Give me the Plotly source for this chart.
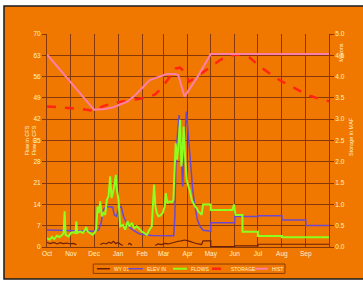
import pandas as pd
import plotly.graph_objects as go

START = pd.Timestamp("2000-10-01")

# ---- data (day of water year, value) ----
brown_days = [0, 4, 9, 13, 17, 21, 26, 30, 34, 38, None,
              69, 73, 77, 80, 83, 86, 89, 92, 95, 98, None,
              105, 107, 110, None,
              140, 144, 148, 153, 157, 161, 166, 170, 174, 178, 183, 187, 191, 196, 200,
              202, 212, 212, 243, 243, 273, 273, 365]
brown_vals = [1.5, 1.1, 1.5, 1.0, 1.4, 1.1, 1.3, 1.0, 1.2, 0.8, None,
              0.8, 1.3, 1.0, 1.6, 1.2, 1.9, 1.1, 1.5, 0.9, 0.5, None,
              0.8, 1.2, 0.6, None,
              0.5, 1.0, 0.8, 1.2, 1.0, 1.3, 1.6, 1.9, 2.0, 2.3, 2.0, 1.6, 1.3, 1.0, 0.8,
              2.0, 2.0, 0.1, 0.1, 0.4, 0.4, 0.9, 0.9]

purple_days = [0, 15, 31, 50, 61, 67, 70, 73, 77, 85, 87, 90, 93, 96, 99, 103, 108, 114, 120,
               135, 150, 164, 165.5, 167, 169, 171, 172.6, 174.3, 175.6, 177.4, 179, 180.4,
               182, 183.8, 186, 188.6, 191.6, 194.6, 198, 202, 212,
               212, 243, 243, 273, 273, 304, 304, 335, 335, 365]
purple_vals = [5.6, 5.5, 5.2, 5.2, 5.2, 5.6, 7.9, 12.3, 13.3, 13.1, 10.6, 10.1, 12.8, 13.3, 10.1,
               7.9, 6.2, 5.1, 4.3,
               3.8, 3.7, 3.7, 10.0, 30.0, 37.4, 43.4, 37.4, 24.3, 19.9, 31.9, 41.8, 44.5,
               39.6, 34.1, 26.5, 18.8, 13.3, 9.0, 6.8, 5.5, 5.2,
               8.0, 8.0, 10.0, 10.0, 10.3, 10.3, 8.9, 8.9, 7.1, 7.1]

green_days = [0, 3.4, 6.5, 9.5, 12.9, 16.4, 19.8, 21.5, 22.8, 24.1, 28, 31, 34.4, 37, 37.9, 39.2,
              43, 46.5, 49.5, 50.8, 52.5, 56, 59, 61.6, 63.7, 65.4, 67.2, 68.9, 71, 73.2, 75.3,
              77.5, 79.6, 81.8, 83.5, 85.2, 87, 89.1, 90.4, 92.6, 94.7, 98.2, 101.2, 104.2,
              106.8, 109.8, 112.8, 116.2, 119.7, 122.7, 125.7, 129.2, 132.6, 135.6, 138.6,
              140.3, 142.1, 144.2, 146.4, 149.8, 152.4, 153.7, 155.8, 158.4, 161.4, 163.6,
              165.3, 166.6, 168.3, 170, 172.2, 173.9, 175.2, 176.9, 178.7, 180.8, 183, 185.1,
              187.3, 189.4, 191.6, 193.7, 195.9, 198, 200.2,
              202, 212, 212, 240, 242, 244, 253, 253, 273, 273, 304, 304, 365]
green_vals = [2.9, 2.4, 3.3, 2.6, 3.7, 3.3, 4.0, 4.6, 11.7, 4.0, 3.5, 4.6, 4.8, 4.6, 8.4, 4.6,
              5.1, 4.6, 5.7, 6.6, 5.1, 4.6, 4.0, 4.6, 5.7, 13.3, 11.2, 15.0, 10.1, 11.2, 10.6,
              15.5, 16.6, 23.2, 16.1, 17.7, 19.9, 23.7, 18.8, 15.5, 6.8, 7.3, 5.7, 8.4,
              6.8, 7.9, 6.2, 6.8, 5.7, 5.1, 4.6, 4.0, 5.7, 6.8, 20.5,
              13.3, 11.2, 10.1, 10.3, 11.2, 13.3, 17.7, 14.4, 15.0, 14.7, 15.5,
              26.5, 34.1, 28.7, 33.0, 41.8, 26.5, 29.8, 39.6, 29.8, 22.1, 19.9, 18.3,
              15.5, 14.4, 13.3, 12.8, 11.7, 11.2, 10.6,
              14.0, 14.0, 12.2, 12.2, 14.0, 10.5, 10.5, 5.0, 5.0, 3.6, 3.6, 3.2, 3.2]

storage_days = [0, 20, 45, 62, 72, 86, 104, 120, 133, 140, 146, 156, 166, 172, 178, 184, 190,
                200, 212, 225, 240, 250, 262, 276, 290, 301, 315, 327, 340, 352, 365]
storage_vals = [3.30, 3.27, 3.24, 3.19, 3.30, 3.38, 3.43, 3.48, 3.53, 3.58, 3.69, 3.92, 4.19,
                4.21, 4.12, 3.88, 3.95, 4.08, 4.25, 4.40, 4.50, 4.52, 4.45, 4.23, 4.05, 3.92,
                3.78, 3.66, 3.55, 3.48, 3.42]

hist_days = [0, 61, 75, 86, 104, 115, 133, 146, 155, 166, 170, 178, 186, 195, 212, 365]
hist_vals = [4.52, 3.22, 3.24, 3.28, 3.41, 3.58, 3.92, 4.00, 4.06, 4.06, 4.03, 3.53, 3.75,
             4.00, 4.53, 4.53]

series_names = ["WY 01", "ELEV IN", "FLOWS", "STORAGE", "HIST"]
month_labels = ["Oct", "Nov", "Dec", "Jan", "Feb", "Mar", "Apr", "May", "Jun", "Jul", "Aug", "Sep"]
left_ticks = [0, 7, 14, 21, 28, 35, 42, 49, 56, 63, 70]
right_ticks = [0.0, 0.5, 1.0, 1.5, 2.0, 2.5, 3.0, 3.5, 4.0, 4.5, 5.0]


def to_dates(days):
    return [None if d is None else START + pd.Timedelta(days=d) for d in days]


colors = ["#6a1e08", "#6a48d0", "#8cff1e", "#ff2414", "#ff7fa6"]
TXT = "#fff2c8"
GRID = "#86380a"
FONT = "Liberation Sans"

fig = go.Figure()
fig.add_trace(go.Scatter(x=to_dates(brown_days), y=brown_vals, mode="lines", name=series_names[0],
                         line=dict(color=colors[0], width=1.2), connectgaps=False))
fig.add_trace(go.Scatter(x=to_dates(purple_days), y=purple_vals, mode="lines", name=series_names[1],
                         line=dict(color=colors[1], width=1.5)))
fig.add_trace(go.Scatter(x=to_dates(green_days), y=green_vals, mode="lines", name=series_names[2],
                         line=dict(color=colors[2], width=2)))
fig.add_trace(go.Scatter(x=to_dates(storage_days), y=storage_vals, mode="lines", name=series_names[3],
                         line=dict(color=colors[3], width=2.5, dash="dash"), yaxis="y2"))
fig.add_trace(go.Scatter(x=to_dates(hist_days), y=hist_vals, mode="lines", name=series_names[4],
                         line=dict(color=colors[4], width=2), yaxis="y2"))

month_starts = [START + pd.DateOffset(months=i) for i in range(13)]

fig.update_layout(
    width=363, height=282,
    margin=dict(l=47, r=34, t=34, b=35),
    paper_bgcolor="white",
    plot_bgcolor="rgba(0,0,0,0)",
    showlegend=False,
    font=dict(family=FONT, color=TXT, size=6),
    xaxis=dict(range=[month_starts[0], month_starts[12]], tickvals=month_starts[:12],
               ticktext=month_labels, showgrid=True, gridcolor=GRID, gridwidth=1,
               showline=True, linecolor=GRID, ticks="", zeroline=False,
               tickfont=dict(family=FONT, size=6.5, color=TXT)),
    yaxis=dict(range=[0, 70], tickvals=left_ticks, showgrid=True, gridcolor=GRID, gridwidth=1,
               showline=True, linecolor=GRID, ticks="outside", ticklen=4, tickcolor=GRID,
               zeroline=False, tickfont=dict(family=FONT, size=6.5, color=TXT)),
    yaxis2=dict(range=[0, 5], tickvals=right_ticks, tickformat=".1f", overlaying="y", side="right",
                showgrid=False, showline=True, linecolor=GRID, ticks="outside", ticklen=4,
                tickcolor=GRID, zeroline=False, tickfont=dict(family=FONT, size=6.5, color=TXT)),
)

shapes = [dict(type="rect", xref="paper", yref="paper", x0=-0.1525, x1=1.13, y0=-0.15, y1=1.131,
               fillcolor="#f07800", line=dict(color="#1a1a1a", width=1.5), layer="below")]

# legend box
shapes.append(dict(type="rect", xref="paper", yref="paper", x0=0.164, x1=0.844, y0=-0.124, y1=-0.080,
                   fillcolor="rgba(0,0,0,0)", line=dict(color="#8a3a0a", width=1), layer="above"))
leg_x = [(0.177, 0.223, 0.230), (0.284, 0.340, 0.348), (0.447, 0.496, 0.504),
         (0.585, 0.638, 0.645), (0.738, 0.784, 0.791)]
dashes = ["solid", "solid", "solid", "dash", "solid"]
widths = [1.5, 1.5, 2, 2.5, 2]
annotations = []
for i, (a, b, t) in enumerate(leg_x):
    shapes.append(dict(type="line", xref="paper", yref="paper", x0=a, x1=b, y0=-0.102, y1=-0.102,
                       line=dict(color=colors[i], width=widths[i], dash=dashes[i])))
    annotations.append(dict(xref="paper", yref="paper", x=t, y=-0.102, xanchor="left", yanchor="middle",
                            text=series_names[i], showarrow=False,
                            font=dict(family=FONT, size=5, color=TXT)))

annotations.append(dict(xref="paper", yref="paper", x=-0.09, y=0.5, text="Flow in CFS<br>Flow in CFS",
                        textangle=-90, showarrow=False, font=dict(family=FONT, size=5.5, color=TXT)))
annotations.append(dict(xref="paper", yref="paper", x=1.095, y=0.52, text="Storage in MAF",
                        textangle=-90, showarrow=False, font=dict(family=FONT, size=5.5, color=TXT)))
annotations.append(dict(xref="paper", yref="paper", x=1.06, y=0.97, text="Millions",
                        textangle=-90, showarrow=False, font=dict(family=FONT, size=5.5, color=TXT)))

fig.update_layout(shapes=shapes, annotations=annotations)
fig.write_html("out.html", config={"displayModeBar": False},
               post_script="document.body.style.margin='0px';document.body.style.padding='0px';")
